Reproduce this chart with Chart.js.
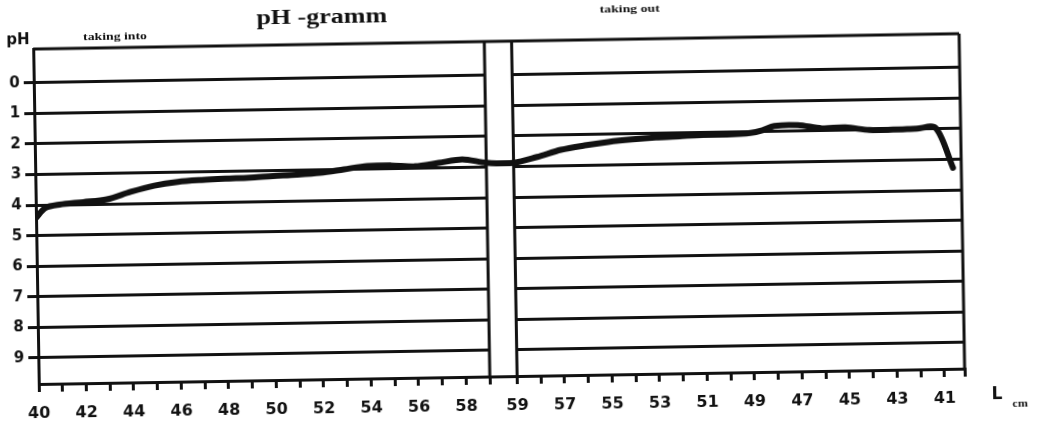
<!DOCTYPE html>
<html>
<head>
<meta charset="utf-8">
<script src="https://cdn.jsdelivr.net/npm/chart.js@4/dist/chart.umd.min.js"></script>
<style>
  html, body { margin: 0; padding: 0; background: #fff; overflow: hidden; }
  /* the scanned original sits slightly tilted */
  #phChart { display: block; transform: rotate(-0.95deg); transform-origin: 50% 50%; }
</style>
</head>
<body>
<canvas id="phChart" width="1039" height="427"></canvas>
<script>
// "taking into" side: length L (cm) going up, and pH
const leftL  = [40, 40.4, 41, 42, 43, 44, 45, 46, 47, 48, 49, 50, 51, 52, 53, 54, 55, 56, 57, 58, 59];
const leftPH = [4.42, 4.1, 4.0, 3.93, 3.85, 3.62, 3.43, 3.32, 3.27, 3.24, 3.22, 3.18, 3.15, 3.1, 3.0, 2.9, 2.9, 2.94, 2.84, 2.74, 2.86];

// "taking out" side: length L (cm) going back down
const rightL  = [59, 58, 57, 56, 55, 54, 53, 52, 51, 50, 49, 48.5, 48, 47, 46, 45, 44, 43, 42, 41.2, 40.5];
const rightPH = [2.88, 2.7, 2.48, 2.35, 2.25, 2.18, 2.13, 2.1, 2.07, 2.07, 2.03, 1.95, 1.82, 1.8, 1.92, 1.9, 2.0, 2.0, 1.98, 1.97, 3.28];

// tick labels
const leftTickLabels  = [40, 42, 44, 46, 48, 50, 52, 54, 56, 58];
const rightTickLabels = [59, 57, 55, 53, 51, 49, 47, 45, 43, 41];
const phTicks = [0, 1, 2, 3, 4, 5, 6, 7, 8, 9];

// axis layout: both halves share one linear scale, split by a gap
const GAP = 1.15;
const X_MAX = 39.0;
const PH_MIN = -1.1;
const PH_MAX = 9.85;

const posLeft = L => L - 40;
const posRight = L => 19 + GAP + (59 - L);

const points = leftL.map((L, i) => ({ x: posLeft(L), y: leftPH[i] }))
  .concat(rightL.map((L, i) => ({ x: posRight(L), y: rightPH[i] })));

// tick positions every cm on both halves, labels from the arrays above
const xTickPos = [];
const xLabel = {};
for (let L = 40; L <= 59; L++) xTickPos.push(posLeft(L));
for (let L = 59; L >= 41; L--) xTickPos.push(posRight(L));
xTickPos.push(X_MAX);
leftTickLabels.forEach(L => { xLabel[posLeft(L).toFixed(2)] = String(L); });
rightTickLabels.forEach(L => { xLabel[posRight(L).toFixed(2)] = String(L); });

const ink = '#111';
const sansBold = { family: '"DejaVu Sans", "Liberation Sans", Arial, sans-serif', weight: 'bold' };

// gap between the two halves, plus top / right frame
const framePlugin = {
  id: 'frame',
  beforeDatasetsDraw(chart) {
    const { ctx, chartArea: a, scales: { x } } = chart;
    const g1 = x.getPixelForValue(19);
    const g2 = x.getPixelForValue(19 + GAP);
    ctx.save();
    ctx.fillStyle = '#fff';
    ctx.fillRect(g1, a.top + 2, g2 - g1, a.bottom - a.top - 4);
    ctx.strokeStyle = ink;
    ctx.lineWidth = 3;
    ctx.beginPath();
    ctx.moveTo(g1, a.top); ctx.lineTo(g1, a.bottom);
    ctx.moveTo(g2, a.top); ctx.lineTo(g2, a.bottom);
    ctx.moveTo(a.left, a.top); ctx.lineTo(a.right, a.top);
    ctx.moveTo(a.right, a.top); ctx.lineTo(a.right, a.bottom);
    ctx.stroke();
    ctx.restore();
  },
  afterDraw(chart) {
    const { ctx, chartArea: a } = chart;
    const put = (text, x, y, font, sx) => {
      ctx.save();
      ctx.translate(x, y);
      ctx.scale(sx, 1);
      ctx.font = font;
      ctx.fillStyle = ink;
      ctx.textAlign = 'center';
      ctx.textBaseline = 'middle';
      ctx.fillText(text, 0, 0);
      ctx.restore();
    };
    put('pH -gramm', 325, 15, 'bold 20px "Liberation Serif", "Times New Roman", serif', 1.3);
    put('taking into', 118, 30, 'bold 11px "Liberation Serif", "Times New Roman", serif', 1.25);
    put('taking out', 633, 11, 'bold 11px "Liberation Serif", "Times New Roman", serif', 1.25);
    put('pH', a.left - 15, 32, 'bold 15px "DejaVu Sans", "Liberation Sans", sans-serif', 1.0);
    put('L', a.right + 32, a.bottom + 27, 'bold 17px "DejaVu Sans", "Liberation Sans", sans-serif', 1);
    put('cm', a.right + 55, a.bottom + 36, 'bold 10px "Liberation Serif", "Times New Roman", serif', 1.2);
  }
};

new Chart(document.getElementById('phChart').getContext('2d'), {
  type: 'line',
  data: {
    datasets: [{
      data: points,
      borderColor: ink,
      borderWidth: 6,
      borderJoinStyle: 'round',
      borderCapStyle: 'round',
      pointRadius: 0,
      tension: 0.3,
      fill: false
    }]
  },
  options: {
    responsive: false,
    animation: false,
    devicePixelRatio: 1,
    layout: { padding: { top: 41, right: 77, left: 0, bottom: 0 } },
    plugins: { legend: { display: false }, tooltip: { enabled: false } },
    scales: {
      x: {
        type: 'linear',
        min: 0,
        max: X_MAX,
        afterBuildTicks: s => { s.ticks = xTickPos.map(v => ({ value: v })); },
        afterFit: s => { s.height = 51; },
        grid: { drawOnChartArea: false, drawTicks: true, tickLength: 8, color: ink, lineWidth: 3 },
        border: { color: ink, width: 3 },
        ticks: {
          autoSkip: false,
          maxRotation: 0,
          padding: 12,
          color: ink,
          font: { ...sansBold, size: 16 },
          callback: v => xLabel[Number(v).toFixed(2)] || ''
        }
      },
      y: {
        min: PH_MIN,
        max: PH_MAX,
        reverse: true,
        afterBuildTicks: s => { s.ticks = phTicks.map(v => ({ value: v })); },
        afterFit: s => { s.width = 36; },
        grid: { color: ink, lineWidth: 3, tickLength: 10 },
        border: { color: ink, width: 3 },
        ticks: {
          padding: 4,
          color: ink,
          font: { ...sansBold, size: 15 },
          callback: v => String(v)
        }
      }
    }
  },
  plugins: [framePlugin]
});
</script>
</body>
</html>
